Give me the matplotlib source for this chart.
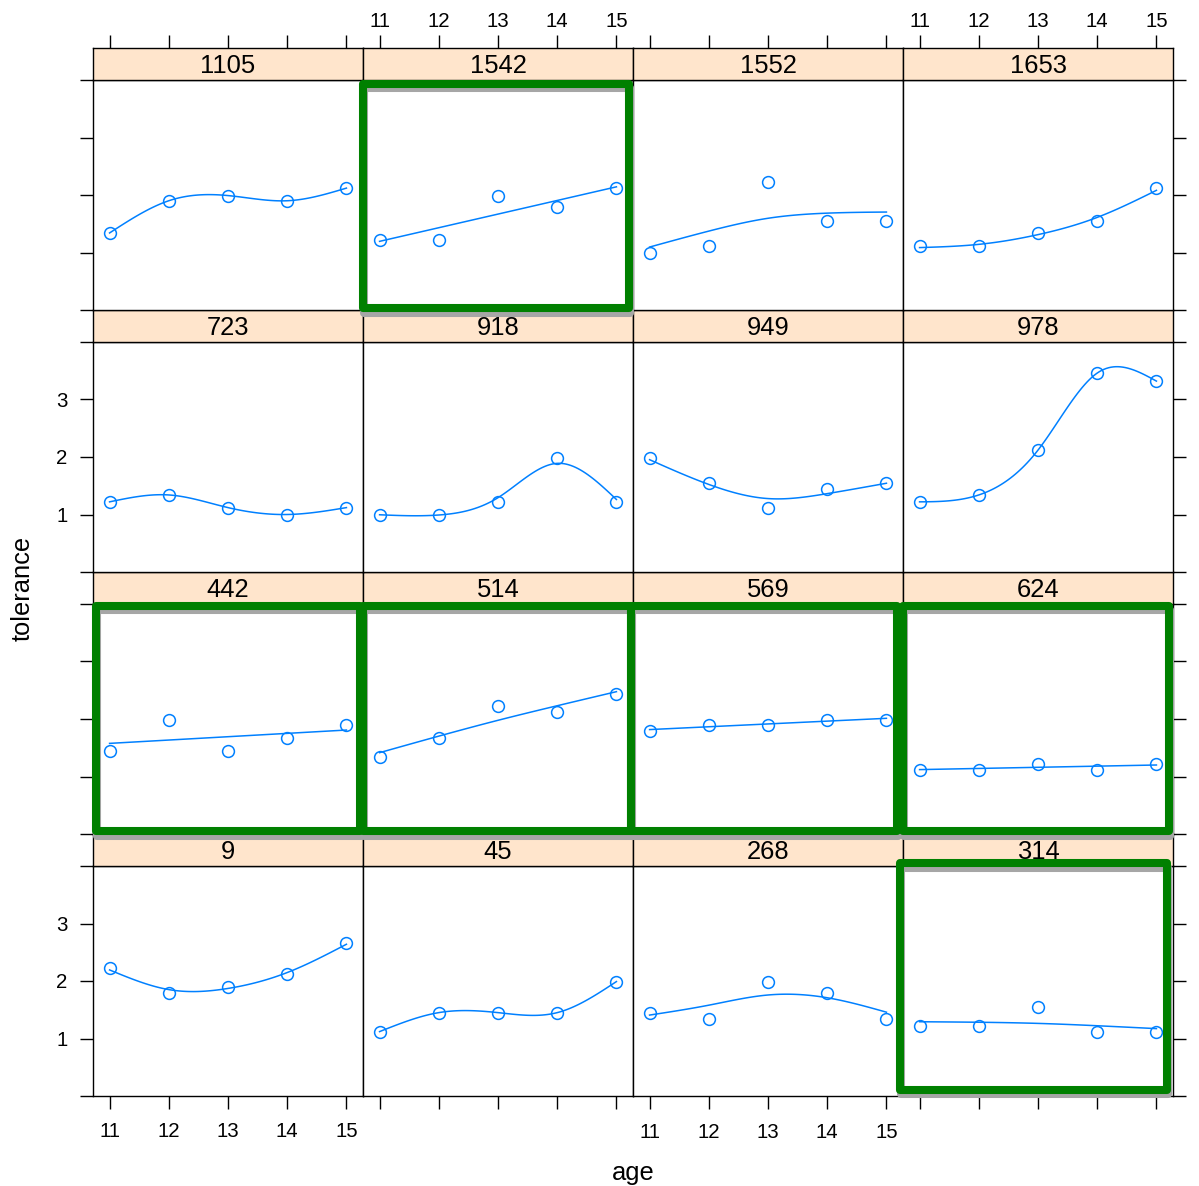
"""
Trayectorias de tolerancia por sujeto (edad 11-15), un panel por id,
con una spline de suavizado (GCV) en cada panel.
"""
import numpy as np
import matplotlib
matplotlib.use("Agg")
import matplotlib.pyplot as plt
from matplotlib.patches import Rectangle

plt.rcParams['font.family'] = ['Liberation Sans', 'DejaVu Sans']

ages = [11, 12, 13, 14, 15]

# ids en el orden de los paneles: de abajo a la izquierda hacia arriba
ids = ['9', '45', '268', '314', '442', '514', '569', '624',
       '723', '918', '949', '978', '1105', '1542', '1552', '1653']

tol_9 = [2.23, 1.79, 1.90, 2.12, 2.66]
tol_45 = [1.12, 1.45, 1.45, 1.45, 1.99]
tol_268 = [1.45, 1.34, 1.99, 1.79, 1.34]
tol_314 = [1.22, 1.22, 1.55, 1.12, 1.12]
tol_442 = [1.45, 1.99, 1.45, 1.67, 1.90]
tol_514 = [1.34, 1.67, 2.23, 2.12, 2.44]
tol_569 = [1.79, 1.90, 1.90, 1.99, 1.99]
tol_624 = [1.12, 1.12, 1.22, 1.12, 1.22]
tol_723 = [1.22, 1.34, 1.12, 1.00, 1.12]
tol_918 = [1.00, 1.00, 1.22, 1.99, 1.22]
tol_949 = [1.99, 1.55, 1.12, 1.45, 1.55]
tol_978 = [1.22, 1.34, 2.12, 3.46, 3.32]
tol_1105 = [1.34, 1.90, 1.99, 1.90, 2.12]
tol_1542 = [1.22, 1.22, 1.99, 1.79, 2.12]
tol_1552 = [1.00, 1.12, 2.23, 1.55, 1.55]
tol_1653 = [1.11, 1.11, 1.34, 1.55, 2.12]

tolerance = {
    '9': tol_9, '45': tol_45, '268': tol_268, '314': tol_314,
    '442': tol_442, '514': tol_514, '569': tol_569, '624': tol_624,
    '723': tol_723, '918': tol_918, '949': tol_949, '978': tol_978,
    '1105': tol_1105, '1542': tol_1542, '1552': tol_1552, '1653': tol_1653,
}

y_ticks = [0, 1, 2, 3, 4]
y_ticklabels = ['', '1', '2', '3', '']

# marcos verdes (px de la figura: x0, y0, x1, y1)
boxes = [
    (363, 84, 629, 308),
    (96, 605.5, 360, 831),
    (363, 605.5, 631, 831),
    (631, 605.5, 897, 831),
    (903, 605.5, 1169, 831),
    (899.5, 863, 1166.5, 1089.5),
]

W, H = 1199, 1186
BLUE = '#0080ff'
STRIP = '#ffe5cc'


def bspline(t, knots, i, p):
    # Cox-de Boor
    if p == 0:
        last = knots[i + 1] == knots[-1] and knots[i] < knots[i + 1]
        return ((t >= knots[i]) & ((t < knots[i + 1]) | (last & (t == knots[-1])))).astype(float)
    out = np.zeros_like(t)
    d1 = knots[i + p] - knots[i]
    d2 = knots[i + p + 1] - knots[i + 1]
    if d1 > 0:
        out += (t - knots[i]) / d1 * bspline(t, knots, i, p - 1)
    if d2 > 0:
        out += (knots[i + p + 1] - t) / d2 * bspline(t, knots, i + 1, p - 1)
    return out


def bspline_d2(t, knots, i):
    # segunda derivada de la B-spline cubica i
    def term(j, a, b):
        d = knots[b] - knots[a]
        return bspline(t, knots, j, 1) / d if d > 0 else 0.0
    d1 = knots[i + 3] - knots[i]
    d2 = knots[i + 4] - knots[i + 1]
    out = np.zeros_like(t)
    if d1 > 0:
        out += (term(i, i, i + 2) - term(i + 1, i + 1, i + 3)) / d1
    if d2 > 0:
        out -= (term(i + 1, i + 1, i + 3) - term(i + 2, i + 2, i + 4)) / d2
    return 6 * out


def spar_ratio(n):
    # razon traza(X'WX)/traza(Sigma) como en smooth.spline (x escalado a [0,1])
    xb = np.linspace(0, 1, n)
    knots = np.r_[[0.0] * 3, xb, [1.0] * 3]
    nk = n + 2
    grid = (np.arange(40000) + 0.5) / 40000
    t1 = t2 = 0.0
    for j in range(2, nk - 3):
        t1 += np.sum(bspline(xb, knots, j, 3) ** 2)
        t2 += np.mean(bspline_d2(grid, knots, j) ** 2)
    return t1 / t2


def brent_min(f, a, b, tol=1e-4, eps=2e-8):
    c = (3 - np.sqrt(5)) * 0.5
    v = w = x = a + c * (b - a)
    d = e = 0.0
    fx = fv = fw = f(x)
    tol3 = tol / 3
    for _ in range(500):
        xm = (a + b) / 2
        tol1 = eps * abs(x) + tol3
        t2 = 2 * tol1
        if abs(x - xm) <= t2 - (b - a) / 2:
            break
        p = q = r = 0.0
        if abs(e) > tol1:
            r = (x - w) * (fx - fv)
            q = (x - v) * (fx - fw)
            p = (x - v) * q - (x - w) * r
            q = (q - r) * 2
            if q > 0:
                p = -p
            else:
                q = -q
            r = e
            e = d
        if abs(p) >= abs(0.5 * q * r) or p <= q * (a - x) or p >= q * (b - x):
            e = (b - x) if x < xm else (a - x)
            d = c * e
        else:
            d = p / q
            u = x + d
            if u - a < t2 or b - u < t2:
                d = tol1 if x < xm else -tol1
        if abs(d) >= tol1:
            u = x + d
        elif d > 0:
            u = x + tol1
        else:
            u = x - tol1
        fu = f(u)
        if fu <= fx:
            if u < x:
                b = x
            else:
                a = x
            v, w, x = w, x, u
            fv, fw, fx = fw, fx, fu
        else:
            if u < x:
                a = u
            else:
                b = u
            if fu <= fw or w == x:
                v, fv, w, fw = w, fw, u, fu
            elif fu <= fv or v == x or v == w:
                v, fv = u, fu
    return x


def smooth_spline(x, y, n_out=100):
    # spline cubica natural penalizada, spar elegido por GCV
    x = np.asarray(x, float)
    y = np.asarray(y, float)
    n = len(x)
    h = np.diff(x)
    Q = np.zeros((n, n - 2))
    R = np.zeros((n - 2, n - 2))
    for j in range(1, n - 1):
        Q[j - 1, j - 1] = 1 / h[j - 1]
        Q[j, j - 1] = -1 / h[j - 1] - 1 / h[j]
        Q[j + 1, j - 1] = 1 / h[j]
        R[j - 1, j - 1] = (h[j - 1] + h[j]) / 3
        if j < n - 2:
            R[j - 1, j] = R[j, j - 1] = h[j] / 6
    K = Q @ np.linalg.solve(R, Q.T)
    span = x[-1] - x[0]
    ratio = spar_ratio(n)

    def fit(spar):
        lam = ratio * 256.0 ** (3 * spar - 1) * span ** 3
        S = np.linalg.inv(np.eye(n) + lam * K)
        return S, S @ y

    def gcv(spar):
        S, g = fit(spar)
        rss = np.sum((y - g) ** 2)
        return (rss / n) / (1 - np.trace(S) / n) ** 2

    spar = brent_min(gcv, -1.5, 1.5)
    g = fit(spar)[1]
    gam = np.zeros(n)
    gam[1:-1] = np.linalg.solve(R, Q.T @ g)
    xs = np.linspace(x[0], x[-1], n_out)
    i = np.clip(np.searchsorted(x, xs, side='right') - 1, 0, n - 2)
    hl = xs - x[i]
    hr = x[i + 1] - xs
    hi = h[i]
    ys = (hl * g[i + 1] + hr * g[i]) / hi \
        - hl * hr / 6 * ((1 + hl / hi) * gam[i + 1] + (1 + hr / hi) * gam[i])
    return xs, ys


def fig_rect(x0, y0, x1, y1):
    return [x0 / W, 1 - y1 / H, (x1 - x0) / W, (y1 - y0) / H]


fig = plt.figure(figsize=(W / 100, H / 100), dpi=100)

tick_len = 9.4
for k, pid in enumerate(ids):
    col = k % 4
    row = 3 - k // 4          # 0 = fila de arriba
    left = 93 + 270 * col
    strip_top = 48 + 262 * row

    ax = fig.add_axes(fig_rect(left, strip_top + 32, left + 270, strip_top + 262))
    st = fig.add_axes(fig_rect(left, strip_top, left + 270, strip_top + 32), sharex=ax)

    # datos y suavizado
    xs, ys = smooth_spline(ages, tolerance[pid])
    ax.plot(xs, ys, color=BLUE, lw=1.1)
    ax.plot(ages, tolerance[pid], 'o', mfc='none', mec=BLUE, ms=8.5, mew=1.1)
    ax.set_xlim(10.72, 15.28)
    ax.set_ylim(0, 4)

    for a in (ax, st):
        for s in a.spines.values():
            s.set_linewidth(1.0)
        a.tick_params(which='both', direction='out', length=tick_len, width=1.0,
                      labelsize=14.7, bottom=False, top=False, left=False, right=False,
                      labelbottom=False, labeltop=False, labelleft=False, labelright=False)

    # tira con el id
    st.set_facecolor(STRIP)
    st.set_yticks([])
    st.text(0.5, 0.45, pid, transform=st.transAxes, ha='center', va='center',
            fontsize=18.4)

    ax.set_xticks(ages)
    ax.set_yticks(y_ticks)
    ax.set_yticklabels(y_ticklabels)

    # ejes alternados al estilo lattice
    if row == 3:
        ax.tick_params(bottom=True, labelbottom=(col % 2 == 0), pad=10)
    if row == 0:
        st.tick_params(top=True, labeltop=(col % 2 == 1), pad=3)
    if col == 0:
        ax.tick_params(left=True, labelleft=(row % 2 == 1), pad=9)
    if col == 3:
        ax.tick_params(right=True, labelright=(row % 2 == 0), pad=9)

# marcos verdes con sombra gris
for (x0, y0, x1, y1) in boxes:
    sh = Rectangle(((x0 + 1) / W, 1 - (y1 + 4.5) / H), (x1 - x0) / W, (y1 - y0) / H,
                   transform=fig.transFigure, fill=False, ec='#a6a6a6', lw=5.8,
                   joinstyle='round', zorder=5)
    gr = Rectangle((x0 / W, 1 - y1 / H), (x1 - x0) / W, (y1 - y0) / H,
                   transform=fig.transFigure, fill=False, ec='#008000', lw=5.8,
                   joinstyle='round', zorder=6)
    fig.patches.extend([sh, gr])

fig.text(23 / W, 1 - 588 / H, 'tolerance', rotation=90, ha='center', va='center',
         fontsize=18.4)
fig.text(633 / W, 1 - 1173 / H, 'age', ha='center', va='center', fontsize=18.4)

fig.savefig('out.png', dpi=100)
